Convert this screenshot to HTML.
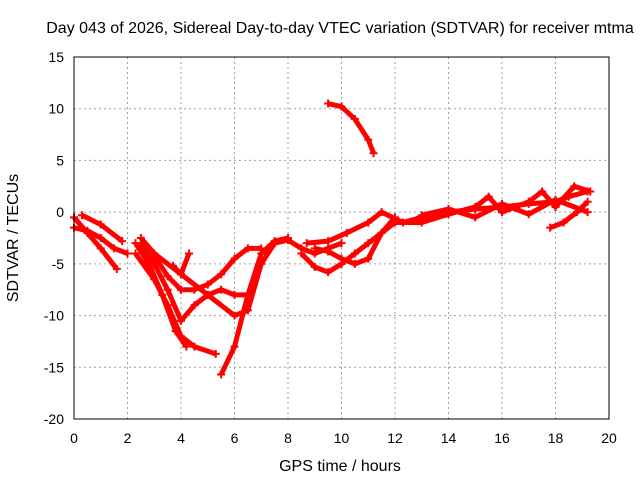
<!DOCTYPE html>
<html><head><meta charset="utf-8"><style>
body{margin:0;background:#fff;}
svg{display:block;font-family:"Liberation Sans",sans-serif;}
</style></head><body>
<svg id="chart" width="640" height="480">
<text x="340" y="33" font-size="16" text-anchor="middle">Day 043 of 2026, Sidereal Day-to-day VTEC variation (SDTVAR) for receiver mtma</text>
<text x="340" y="471" font-size="16" text-anchor="middle">GPS time / hours</text>
<text x="18" y="238" font-size="16" text-anchor="middle" transform="rotate(-90 18 238)">SDTVAR / TECUs</text>
<g id="grid"></g><g id="axes"></g><g id="series"></g>
<rect x="74" y="57" width="535" height="362" fill="none" stroke="#000" stroke-width="1"/>
</svg>
<script>
const xTicks=[0,2,4,6,8,10,12,14,16,18,20];
const yTicks=[15,10,5,0,-5,-10,-15,-20];
const tracks=[
[[0,-0.5],[0.5,-2],[1,-3.5],[1.6,-5.5]],
[[0,-1.5],[0.5,-1.8],[1,-2.5],[1.5,-3.5],[2,-4]],
[[0.3,-0.3],[1,-1.2],[1.8,-2.8]],
[[2.3,-3],[2.8,-5],[3.3,-8],[3.8,-11.5],[4.2,-13]],
[[2.3,-4],[3,-6.5],[3.5,-9],[4,-12],[4.5,-13],[5.3,-13.7]],
[[2.5,-3],[3,-5],[3.5,-7.5],[4,-10.5],[4.5,-9],[5,-8],[5.5,-7.5],[6,-8],[6.5,-8]],
[[2.5,-2.5],[3,-4],[4,-6],[5,-8],[6,-10],[6.5,-9.5],[7,-5],[7.5,-3]],
[[3,-4.2],[3.5,-6.2],[4,-7.5],[4.5,-7.5],[5,-7],[5.5,-6],[6,-4.5],[6.5,-3.5],[7,-3.5]],
[[3.7,-5.2],[4,-6],[4.3,-4]],
[[5.5,-15.7],[6,-13],[6.5,-8],[7,-4],[7.5,-2.8],[8,-2.5]],
[[7.5,-3],[8,-2.7],[8.5,-3.5],[9,-4],[9.5,-3.5],[10,-3]],
[[8.5,-4],[9,-5.3],[9.5,-5.8],[10,-5],[10.5,-4],[11,-3],[11.5,-2],[12,-1]],
[[9,-3.5],[9.5,-3.8],[10,-4.5],[10.5,-5],[11,-4.5],[11.5,-2],[12,-0.5]],
[[8.7,-3],[9.5,-2.8],[10.2,-2],[11,-1],[11.5,0],[12.3,-1],[13,-0.5],[14,0],[15,0.3],[16,0.5],[17,0.8],[18,1],[18.5,1.5],[19.2,2]],
[[12,-1],[13,-1],[14,-0.2],[15,0.5],[15.5,1.5],[16,0],[17,1],[17.5,2],[18,0.5],[18.7,2.5],[19.3,2]],
[[13,-0.3],[14,0.3],[15,-0.5],[16,0.8],[17,-0.2],[18,1.2],[19.2,0]],
[[17.8,-1.5],[18.3,-1],[18.8,0],[19.2,1]],
[[9.5,10.5],[10,10.2],[10.5,9],[11,7],[11.2,5.7]]
];
const X=v=>74+v*(535/20), Y=v=>57+(15-v)*(362/35);
const NS="http://www.w3.org/2000/svg";
function mk(t,a,p){const e=document.createElementNS(NS,t);for(const k in a)e.setAttribute(k,a[k]);p.appendChild(e);return e;}
const grid=document.getElementById('grid'),axes=document.getElementById('axes'),ser=document.getElementById('series');
xTicks.forEach(t=>{
 const l=mk('line',{x1:X(t),x2:X(t),y1:57,y2:419,stroke:'#a0a0a0','stroke-dasharray':'2,3'},grid);
 
 
 const s=mk('text',{x:X(t),y:443,'font-size':14,'text-anchor':'middle'},axes);s.textContent=t;
 
 
});
yTicks.forEach(t=>{
 const l=mk('line',{x1:74,x2:609,y1:Y(t),y2:Y(t),stroke:'#a0a0a0','stroke-dasharray':'2,3'},grid);
 
 
 const s=mk('text',{x:64,y:Y(t)+5,'font-size':14,'text-anchor':'end'},axes);s.textContent=t;
 
 
});
tracks.forEach((tr,i)=>{
 const p=mk('polyline',{points:tr.map(d=>X(d[0])+','+Y(d[1])).join(' '),fill:'none',stroke:'#ff0000','stroke-width':5,'stroke-linejoin':'round'},ser);
 
 
 tr.forEach(d=>{
  const m=mk('path',{d:`M${X(d[0])-4},${Y(d[1])}h8M${X(d[0])},${Y(d[1])-4}v8`,stroke:'#ff0000','stroke-width':2},ser);
  
  
 });
});
</script>
</body></html>
